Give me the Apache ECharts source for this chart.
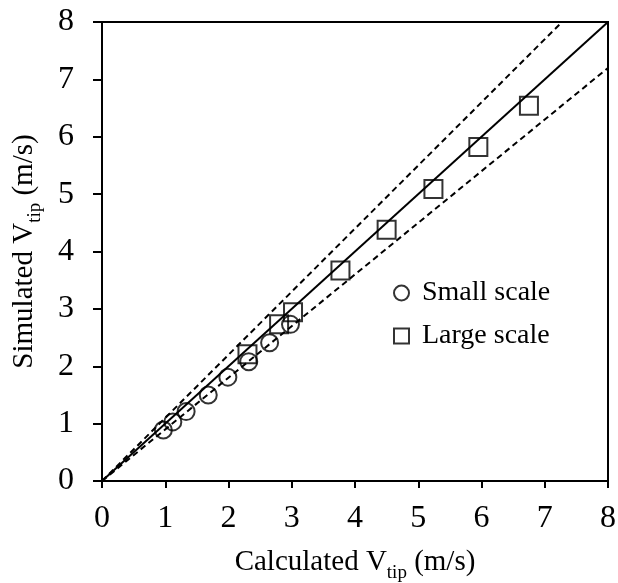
<!DOCTYPE html>
<html>
<head>
<meta charset="utf-8">
<script src="https://cdn.jsdelivr.net/npm/echarts@6/dist/echarts.min.js"></script>
<style>html,body{margin:0;padding:0;background:#fff;}#c{width:618px;height:583px;}</style>
</head>
<body>
<div id="c"></div>
<script>
const smallX = [0.97, 1.12, 1.33, 1.68, 1.99, 2.32, 2.65, 2.98];
const smallY = [0.89, 1.03, 1.21, 1.50, 1.81, 2.08, 2.41, 2.73];
const largeX = [2.30, 2.80, 3.02, 3.77, 4.50, 5.24, 5.95, 6.75];
const largeY = [2.21, 2.73, 2.94, 3.67, 4.38, 5.09, 5.82, 6.54];
const lineX = [0, 8];
const parityY = [0, 8];
const upperY = [0, 8.8];
const lowerY = [0, 7.2];
const seriesNames = ['Small scale', 'Large scale'];

const FONT = 'Liberation Serif';
const pair = (xs, ys) => xs.map((x, i) => [x, ys[i]]);
const nameRich = {
  a: {fontFamily: FONT, fontSize: 29, color: '#000', lineHeight: 33, verticalAlign: 'top'},
  b: {fontFamily: FONT, fontSize: 19, color: '#000', lineHeight: 19, verticalAlign: 'top', padding: [16, 0, 0, 0]}
};
const chart = echarts.init(document.getElementById('c'), null, {renderer: 'canvas'});
chart.setOption({
  animation: false,
  backgroundColor: '#fff',
  grid: {left: 102, right: 10, top: 22, bottom: 102, show: true, borderColor: '#000', borderWidth: 2,
    containLabel: false, outerBoundsMode: 'none'},
  legend: {
    orient: 'vertical', left: 388, top: 274, itemWidth: 15, itemHeight: 15, itemGap: 15,
    textStyle: {fontFamily: FONT, fontSize: 28, color: '#000', padding: [0, 0, 0, 8]},
    data: [
      {name: seriesNames[0], icon: 'circle', itemStyle: {color: 'rgba(0,0,0,0)', borderColor: '#000', borderWidth: 2}},
      {name: seriesNames[1], icon: 'rect', itemStyle: {color: 'rgba(0,0,0,0)', borderColor: '#000', borderWidth: 2}}
    ]
  },
  xAxis: {
    type: 'value', min: 0, max: 8, interval: 1,
    name: '{a|Calculated V}{b|tip}{a| (m/s)}', nameLocation: 'middle', nameGap: 67,
    nameTextStyle: {rich: nameRich},
    axisLine: {show: true, lineStyle: {color: '#000', width: 2}},
    axisTick: {show: true, inside: false, length: 7, lineStyle: {color: '#000', width: 2}},
    axisLabel: {fontFamily: FONT, fontSize: 32, color: '#000', margin: 22},
    splitLine: {show: false}
  },
  yAxis: {
    type: 'value', min: 0, max: 8, interval: 1,
    name: '{a|Simulated V}{b|tip}{a| (m/s)}', nameLocation: 'middle', nameGap: 59,
    nameTextStyle: {rich: nameRich},
    axisLine: {show: true, lineStyle: {color: '#000', width: 2}},
    axisTick: {show: true, inside: false, length: 9, lineStyle: {color: '#000', width: 2}},
    axisLabel: {fontFamily: FONT, fontSize: 32, color: '#000', margin: 28},
    splitLine: {show: false}
  },
  series: [
    {type: 'line', data: pair(lineX, parityY), symbol: 'none', clip: true, silent: true,
      lineStyle: {color: '#000', width: 2}},
    {type: 'line', data: pair(lineX, upperY), symbol: 'none', clip: true, silent: true,
      lineStyle: {color: '#000', width: 2, type: [6, 4]}},
    {type: 'line', data: pair(lineX, lowerY), symbol: 'none', clip: true, silent: true,
      lineStyle: {color: '#000', width: 2, type: [6, 4]}},
    {name: seriesNames[0], type: 'scatter', data: pair(smallX, smallY), symbol: 'circle', symbolSize: 17,
      itemStyle: {color: 'rgba(0,0,0,0)', borderColor: '#000', borderWidth: 2}},
    {name: seriesNames[1], type: 'scatter', data: pair(largeX, largeY), symbol: 'rect', symbolSize: 18,
      itemStyle: {color: 'rgba(0,0,0,0)', borderColor: '#000', borderWidth: 2}}
  ]
});
</script>
</body>
</html>
